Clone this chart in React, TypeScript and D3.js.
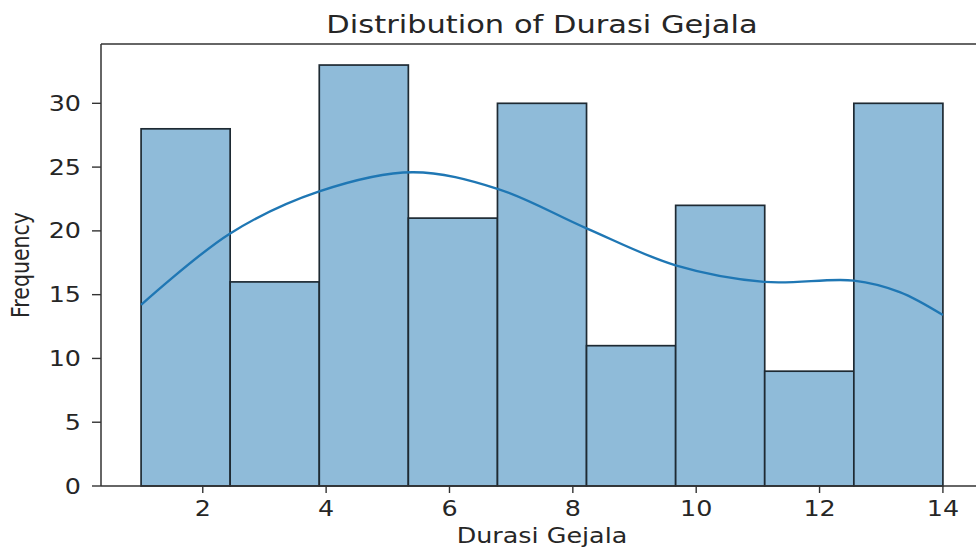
import React from "react";
import * as d3 from "d3";

const binEdges = [1, 2.444, 3.889, 5.333, 6.778, 8.222, 9.667, 11.111, 12.556, 14];
const counts = [28, 16, 33, 21, 30, 11, 22, 9, 30];
const kdeX = [1, 2.444, 3.889, 5.4, 6.778, 8.222, 9.667, 11.111, 12.556, 13.3, 14];
const kdeY = [14.2, 19.8, 23.1, 24.6, 23.3, 20.2, 17.3, 16.0, 16.1, 15.2, 13.4];
const xTicks = [2, 4, 6, 8, 10, 12, 14];
const yTicks = [0, 5, 10, 15, 20, 25, 30];

const W = 976, H = 549;
const left = 101, right = 983, top = 44, bottom = 486;
const SX = 1.24;
const textColor = "#262626";
const font = "DejaVu Sans";

export default function App() {
  const x = d3.scaleLinear().domain([0.35, 14.65]).range([left, right]);
  const y = d3.scaleLinear().domain([0, 34.65]).range([bottom, top]);
  const line = d3
    .line<number>()
    .x((_, i) => x(kdeX[i]))
    .y((d) => y(d))
    .curve(d3.curveCatmullRom.alpha(0.5));

  return (
    <svg
      width={W}
      height={H}
      style={{ position: "fixed", left: 0, top: 0, background: "#fff" }}
      fontFamily={font}
    >
      <rect x={0} y={0} width={W} height={H} fill="#fff" />
      {counts.map((c, i) => (
        <rect
          key={i}
          x={x(binEdges[i])}
          y={y(c)}
          width={x(binEdges[i + 1]) - x(binEdges[i])}
          height={y(0) - y(c)}
          fill="#8fbbd9"
          stroke="#1e2a33"
          strokeWidth={1.7}
        />
      ))}
      <path d={line(kdeY) || ""} fill="none" stroke="#1f77b4" strokeWidth={2.4} />
      <line x1={left} x2={left} y1={top} y2={bottom} stroke="#333" strokeWidth={1.5} />
      <line x1={left} x2={right} y1={top} y2={top} stroke="#333" strokeWidth={1.5} />
      <line x1={left} x2={right} y1={bottom} y2={bottom} stroke="#333" strokeWidth={1.5} />
      <line x1={right} x2={right} y1={top} y2={bottom} stroke="#333" strokeWidth={1.5} />
      {yTicks.map((t) => (
        <g key={t}>
          <line x1={left - 9} x2={left} y1={y(t)} y2={y(t)} stroke="#333" strokeWidth={1.4} />
          <text
            transform={`translate(${left - 20},${y(t) + 7.5}) scale(${SX},1)`}
            textAnchor="end"
            fontSize={20.5}
            fill={textColor}
          >
            {t}
          </text>
        </g>
      ))}
      {xTicks.map((t) => (
        <g key={t}>
          <line x1={x(t)} x2={x(t)} y1={bottom} y2={bottom + 7} stroke="#333" strokeWidth={1.4} />
          <text
            transform={`translate(${x(t)},${bottom + 30}) scale(${SX},1)`}
            textAnchor="middle"
            fontSize={20.5}
            fill={textColor}
          >
            {t}
          </text>
        </g>
      ))}
      <text
        transform={`translate(${(left + right) / 2},${543}) scale(${SX},1)`}
        textAnchor="middle"
        fontSize={20.5}
        fill={textColor}
      >
        Durasi Gejala
      </text>
      <text
        transform={`translate(29,${(top + bottom) / 2}) scale(${SX},1) rotate(-90)`}
        textAnchor="middle"
        fontSize={20.5}
        fill={textColor}
      >
        Frequency
      </text>
      <text
        transform={`translate(${(left + right) / 2},${33}) scale(${SX},1)`}
        textAnchor="middle"
        fontSize={24.6}
        fill={textColor}
      >
        Distribution of Durasi Gejala
      </text>
    </svg>
  );
}
